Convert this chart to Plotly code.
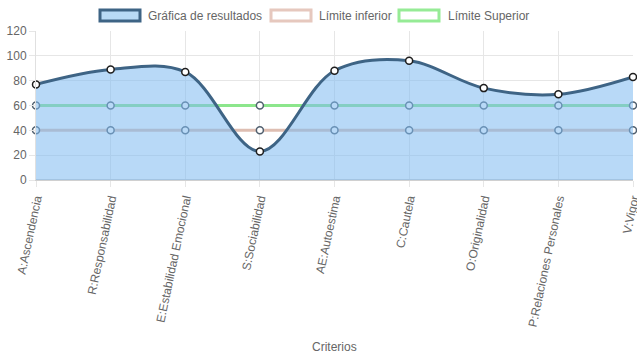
import plotly.graph_objects as go

categorias = ["A:Ascendencia", "R:Responsabilidad", "E:Estabilidad Emocional", "S:Sociabilidad",
              "AE:Autoestima", "C:Cautela", "O:Originalidad", "P:Relaciones Personales", "V:Vigor"]
resultados = [77, 89, 87, 23, 88, 96, 74, 69, 83]
limite_inferior = [40, 40, 40, 40, 40, 40, 40, 40, 40]
limite_superior = [60, 60, 60, 60, 60, 60, 60, 60, 60]
y_ticks = [0, 20, 40, 60, 80, 100, 120]
series_nombres = ["Gráfica de resultados", "Límite inferior", "Límite Superior"]

FONT = "Liberation Sans, Arial, sans-serif"
W, H = 637, 359
L, R, T, B = 36, 4, 31, 179
PW, PH = W - L - R, H - T - B


def px(x):
    return (x - L) / PW


def py(y):
    return (H - B - y) / PH


fig = go.Figure()

fig.add_trace(go.Scatter(
    x=categorias, y=limite_inferior, mode="lines+markers", name=series_nombres[1], showlegend=False,
    line=dict(color="rgb(222,190,178)", width=3),
    marker=dict(size=7, color="white", line=dict(color="rgb(80,95,110)", width=1.5)),
    cliponaxis=False))
fig.add_trace(go.Scatter(
    x=categorias, y=limite_superior, mode="lines+markers", name=series_nombres[2], showlegend=False,
    line=dict(color="rgb(140,230,140)", width=3),
    marker=dict(size=7, color="white", line=dict(color="rgb(80,95,110)", width=1.5)),
    cliponaxis=False))
fig.add_trace(go.Scatter(
    x=categorias, y=resultados, mode="lines+markers", name=series_nombres[0], showlegend=False,
    line=dict(color="rgb(62,100,133)", width=3, shape="spline", smoothing=1.0),
    fill="tozeroy", fillcolor="rgba(125,185,240,0.55)",
    marker=dict(size=7, color="white", line=dict(color="rgb(30,30,30)", width=1.5)),
    cliponaxis=False))

# Chart.js-style legend boxes
legend_items = [
    (99, 146, "rgb(184,218,246)", "rgb(62,100,133)"),
    (270, 317, "white", "rgb(230,200,190)"),
    (398, 446, "white", "rgb(150,235,150)"),
]
shapes = []
annotations = []
for (bx, tx, fc, lc), name in zip(legend_items, series_nombres):
    shapes.append(dict(type="rect", xref="paper", yref="paper",
                       x0=px(bx + 1), x1=px(bx + 41), y0=py(21), y1=py(10),
                       fillcolor=fc, line=dict(color=lc, width=3), layer="above"))
    annotations.append(dict(text=name, xref="paper", yref="paper", x=px(tx), y=py(16),
                            xanchor="left", yanchor="middle", showarrow=False,
                            font=dict(size=12, color="#666", family=FONT)))
annotations.append(dict(text="Criterios", xref="paper", yref="paper", x=0.5, y=py(347),
                        xanchor="center", yanchor="middle", showarrow=False,
                        font=dict(size=12, color="#666", family=FONT)))

fig.update_layout(
    width=W, height=H,
    margin=dict(l=L, r=R, t=T, b=B),
    paper_bgcolor="white", plot_bgcolor="white",
    font=dict(family=FONT, size=12, color="#666"),
    showlegend=False,
    shapes=shapes, annotations=annotations,
    xaxis=dict(type="category", range=[0, 8], showgrid=True, gridcolor="#e6e6e6",
               tickangle=-78, ticks="outside", ticklen=6, tickcolor="#e6e6e6",
               showline=True, linecolor="#d0d0d0", linewidth=1, automargin=False,
               tickfont=dict(size=12, color="#666"), zeroline=False),
    yaxis=dict(range=[0, 120], tickvals=y_ticks, showgrid=True, gridcolor="#e6e6e6",
               ticks="outside", ticklen=6, tickcolor="#e6e6e6", automargin=False,
               showline=True, linecolor="#e0e0e0", tickfont=dict(size=12, color="#666"),
               zeroline=True, zerolinecolor="#d0d0d0", zerolinewidth=2),
)

fig.write_html("out.html", config={"displayModeBar": False},
               post_script="document.body.style.margin='0';document.body.style.overflow='hidden';")
